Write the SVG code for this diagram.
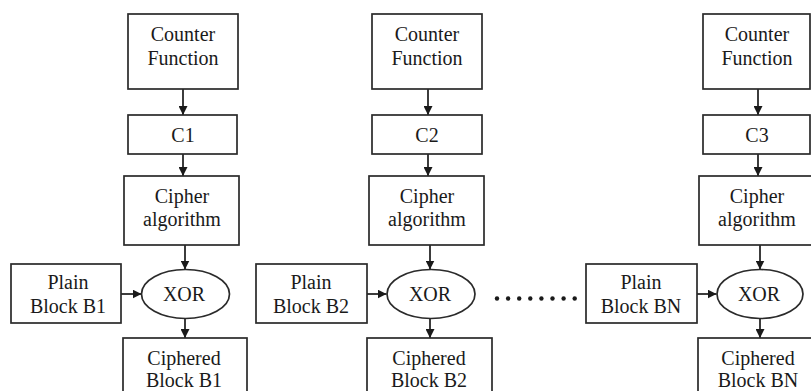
<svg xmlns="http://www.w3.org/2000/svg" width="811" height="391" viewBox="0 0 811 391">
<defs>
<marker id="ah" viewBox="0 0 10 10" refX="10" refY="5" markerWidth="9" markerHeight="9" markerUnits="userSpaceOnUse" orient="auto">
<path d="M0,0 L10,5 L0,10 z" fill="#1a1a1a"/>
</marker>
<style>
.b{fill:#fff;stroke:#2a2a2a;stroke-width:1.7}
.t{font-family:"Liberation Serif","Times New Roman",serif;font-size:20px;fill:#1a1a1a;text-anchor:middle}
.c{stroke:#1a1a1a;stroke-width:1.7;fill:none;marker-end:url(#ah)}
.d{fill:#1a1a1a}
</style>
</defs>
<rect width="811" height="391" fill="#fff"/>
<g id="connectors">
<line class="c" x1="183" y1="89" x2="183" y2="115"/>
<line class="c" x1="183" y1="154" x2="183" y2="176"/>
<line class="c" x1="185" y1="245" x2="185" y2="269.5"/>
<line class="c" x1="121" y1="294" x2="141.5" y2="294"/>
<line class="c" x1="185" y1="318.5" x2="185" y2="338"/>
<line class="c" x1="428" y1="89" x2="428" y2="115"/>
<line class="c" x1="428" y1="154" x2="428" y2="176"/>
<line class="c" x1="430" y1="245" x2="430" y2="269.5"/>
<line class="c" x1="367" y1="294" x2="386.5" y2="294"/>
<line class="c" x1="430" y1="318.5" x2="430" y2="338"/>
<line class="c" x1="758" y1="89" x2="758" y2="115"/>
<line class="c" x1="758" y1="154" x2="758" y2="176"/>
<line class="c" x1="760" y1="245" x2="760" y2="269.5"/>
<line class="c" x1="697" y1="294" x2="716.5" y2="294"/>
<line class="c" x1="760" y1="318.5" x2="760" y2="338"/>
</g>
<g id="counter1"><rect class="b" x="128" y="14" width="110" height="75"/><text class="t" x="183" y="41">Counter</text><text class="t" x="183" y="65">Function</text></g>
<g id="c1"><rect class="b" x="128" y="115" width="109" height="39"/><text class="t" x="183" y="142">C1</text></g>
<g id="cipher1"><rect class="b" x="124" y="176" width="115" height="69"/><text class="t" x="182" y="203">Cipher</text><text class="t" x="182" y="226">algorithm</text></g>
<g id="xor1"><ellipse class="b" cx="185.5" cy="294" rx="44" ry="24.5"/><text class="t" x="184" y="301">XOR</text></g>
<g id="plain1"><rect class="b" x="11" y="264" width="110" height="59"/><text class="t" x="68" y="289">Plain</text><text class="t" x="68" y="313">Block B1</text></g>
<g id="ciphered1"><rect class="b" x="123" y="338" width="124" height="70"/><text class="t" x="184" y="365">Ciphered</text><text class="t" x="184" y="387">Block B1</text></g>

<g id="counter2"><rect class="b" x="372" y="14" width="110" height="75"/><text class="t" x="427" y="41">Counter</text><text class="t" x="427" y="65">Function</text></g>
<g id="c2"><rect class="b" x="372" y="115" width="110" height="39"/><text class="t" x="427" y="142">C2</text></g>
<g id="cipher2"><rect class="b" x="369" y="176" width="115" height="69"/><text class="t" x="427" y="203">Cipher</text><text class="t" x="427" y="226">algorithm</text></g>
<g id="xor2"><ellipse class="b" cx="431" cy="294" rx="44" ry="24.5"/><text class="t" x="430" y="301">XOR</text></g>
<g id="plain2"><rect class="b" x="256" y="264" width="111" height="59"/><text class="t" x="311" y="289">Plain</text><text class="t" x="311" y="313">Block B2</text></g>
<g id="ciphered2"><rect class="b" x="367" y="338" width="125" height="70"/><text class="t" x="429" y="365">Ciphered</text><text class="t" x="429" y="387">Block B2</text></g>

<g id="dots">
<circle class="d" cx="497" cy="298.5" r="2.2"/><circle class="d" cx="508.1" cy="298.5" r="2.2"/><circle class="d" cx="519.2" cy="298.5" r="2.2"/><circle class="d" cx="530.3" cy="298.5" r="2.2"/><circle class="d" cx="541.4" cy="298.5" r="2.2"/><circle class="d" cx="552.5" cy="298.5" r="2.2"/><circle class="d" cx="563.6" cy="298.5" r="2.2"/><circle class="d" cx="574.7" cy="298.5" r="2.2"/>
</g>

<g id="counter3"><rect class="b" x="703" y="14" width="107" height="75"/><text class="t" x="757" y="41">Counter</text><text class="t" x="757" y="65">Function</text></g>
<g id="c3"><rect class="b" x="703" y="115" width="107" height="39"/><text class="t" x="757" y="142">C3</text></g>
<g id="cipher3"><rect class="b" x="699" y="176" width="116" height="69"/><text class="t" x="757" y="203">Cipher</text><text class="t" x="757" y="226">algorithm</text></g>
<g id="xor3"><ellipse class="b" cx="760" cy="294" rx="43" ry="24.5"/><text class="t" x="759" y="301">XOR</text></g>
<g id="plainN"><rect class="b" x="586" y="264" width="111" height="59"/><text class="t" x="641" y="289">Plain</text><text class="t" x="641" y="313">Block BN</text></g>
<g id="cipheredN"><rect class="b" x="698" y="338" width="124" height="70"/><text class="t" x="758" y="365">Ciphered</text><text class="t" x="758" y="387">Block BN</text></g>
</svg>
